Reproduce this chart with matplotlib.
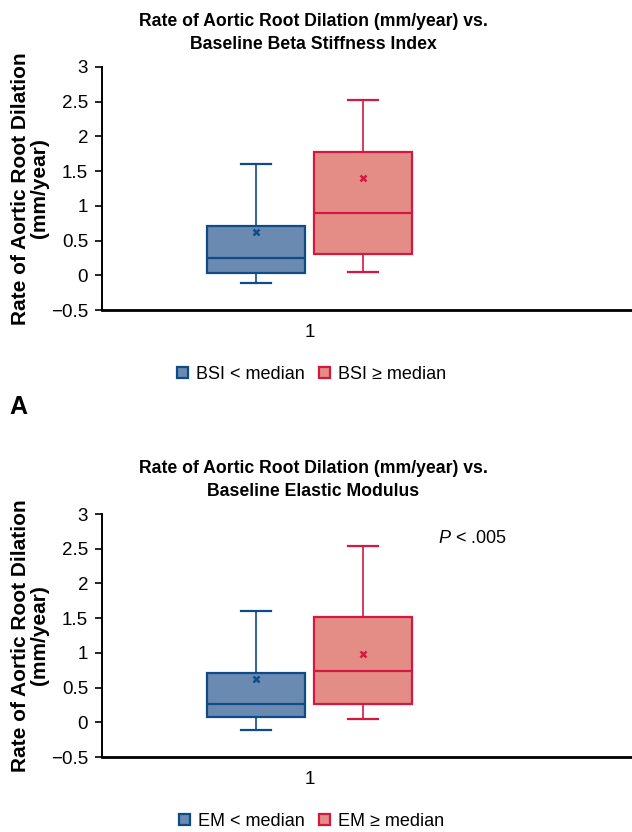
import matplotlib.pyplot as plt
from matplotlib.patches import Patch

plt.rcParams['font.family'] = ['Liberation Sans', 'DejaVu Sans']
plt.rcParams['mathtext.fontset'] = 'custom'
plt.rcParams['mathtext.it'] = 'Liberation Sans:italic'
plt.rcParams['mathtext.rm'] = 'Liberation Sans'

# data
category = ['1']
yticks = [-0.5, 0, 0.5, 1, 1.5, 2, 2.5, 3]
ytick_labels = ['\u22120.5', '0', '0.5', '1', '1.5', '2', '2.5', '3']

bsi_groups = ['BSI < median', 'BSI \u2265 median']
bsi_whislo = [-0.11, 0.05]
bsi_q1 = [0.04, 0.31]
bsi_med = [0.25, 0.90]
bsi_q3 = [0.71, 1.77]
bsi_whishi = [1.60, 2.53]
bsi_mean = [0.63, 1.40]

em_groups = ['EM < median', 'EM \u2265 median']
em_whislo = [-0.11, 0.05]
em_q1 = [0.08, 0.27]
em_med = [0.26, 0.74]
em_q3 = [0.71, 1.51]
em_whishi = [1.61, 2.54]
em_mean = [0.62, 0.99]

p_text = '$P$ < .005'

fills = ['#6a8ab2', '#e48d86']
edges = ['#0d4c86', '#d5183f']

TITLE1 = 'Rate of Aortic Root Dilation (mm/year) vs.\nBaseline Beta Stiffness Index'
TITLE2 = 'Rate of Aortic Root Dilation (mm/year) vs.\nBaseline Elastic Modulus'


def draw_panel(ax, groups, whislo, q1, med, q3, whishi, mean, title):
    pos = [0.745, 1.25]
    for i in range(len(groups)):
        st = [dict(med=med[i], q1=q1[i], q3=q3[i], whislo=whislo[i],
                   whishi=whishi[i], mean=mean[i], label=groups[i])]
        ax.bxp(st, positions=[pos[i]], widths=0.46, showmeans=True,
               showfliers=False, patch_artist=True,
               boxprops=dict(facecolor=fills[i], edgecolor=edges[i], linewidth=1.6),
               medianprops=dict(color=edges[i], linewidth=1.6),
               whiskerprops=dict(color=edges[i], linewidth=1.2),
               capprops=dict(color=edges[i], linewidth=1.6),
               capwidths=0.14,
               meanprops=dict(marker='x', markeredgecolor=edges[i],
                              markersize=4.5, markeredgewidth=1.8))
    ax.set_xlim(1 - 0.3925 * 2.5, 1 + 0.6075 * 2.5)
    ax.set_ylim(-0.5, 3)
    ax.set_yticks(yticks)
    ax.set_yticklabels(ytick_labels, fontsize=13.5)
    ax.set_xticks([1])
    ax.set_xticklabels(category, fontsize=13.5)
    ax.tick_params(axis='x', length=0, pad=10)
    ax.tick_params(axis='y', length=5, width=1.2, pad=5, direction='out')
    for s in ['top', 'right']:
        ax.spines[s].set_visible(False)
    ax.spines['left'].set_linewidth(1.4)
    ax.spines['bottom'].set_linewidth(2.0)
    ax.set_ylabel('Rate of Aortic Root Dilation\n(mm/year)', fontsize=15,
                  fontweight='bold', labelpad=1, linespacing=1.05)
    ax.set_title(title, fontsize=12.7, fontweight='bold', x=0.398, pad=13,
                 linespacing=1.42)
    handles = [Patch(facecolor=fills[i], edgecolor=edges[i], linewidth=1.6,
                     label=groups[i]) for i in range(len(groups))]
    ax.legend(handles=handles, loc='center', bbox_to_anchor=(0.396, -0.265),
              ncol=2, frameon=False, fontsize=13, handlelength=0.6,
              handleheight=0.6, handletextpad=0.45, columnspacing=0.8)


fig = plt.figure(figsize=(6.32, 8.32), dpi=100)
ax1 = fig.add_axes([0.1614, 0.6274, 0.8386, 0.2921])
ax2 = fig.add_axes([0.1614, 0.0901, 0.8386, 0.2921])

draw_panel(ax1, bsi_groups, bsi_whislo, bsi_q1, bsi_med, bsi_q3, bsi_whishi, bsi_mean, TITLE1)
draw_panel(ax2, em_groups, em_whislo, em_q1, em_med, em_q3, em_whishi, em_mean, TITLE2)

ax2.text(0.764, 0.899, p_text, transform=ax2.transAxes,
         ha='right', va='center', fontsize=13)

fig.text(0.015, 0.511, 'A', fontsize=18, fontweight='bold', va='center')

fig.savefig('out.png', dpi=100)
